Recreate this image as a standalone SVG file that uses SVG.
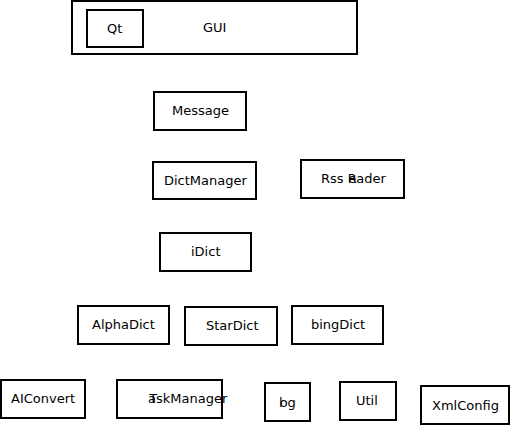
<svg xmlns="http://www.w3.org/2000/svg" width="510" height="425" viewBox="0 0 510 425">
<style>
rect{fill:#fff;stroke:#000;stroke-width:2}
text{font-family:"DejaVu Sans",sans-serif;font-size:13px;fill:#000}
</style>
<rect x="0" y="0" width="510" height="425" style="stroke:none"/>
<g id="connectors"></g>
<g id="GUI"><rect x="72" y="1" width="285" height="53"/><text x="203" y="32">GUI</text></g>
<g id="Qt"><rect x="87" y="10" width="56" height="37"/><text x="107" y="33">Qt</text></g>
<g id="Message"><rect x="154" y="92" width="92" height="38"/><text x="172" y="115">Message</text></g>
<g id="DictManager"><rect x="153" y="162" width="103" height="37"/><text x="164" y="185">DictManager</text></g>
<g id="RssReader"><rect x="301" y="160" width="103" height="38"/><text x="321" y="183">Rss R<tspan dx="-8">eader</tspan></text></g>
<g id="iDict"><rect x="160" y="233" width="91" height="38"/><text x="191" y="256">iDict</text></g>
<g id="AlphaDict"><rect x="78" y="306" width="91" height="38"/><text x="92" y="329">AlphaDict</text></g>
<g id="StarDict"><rect x="185" y="307" width="92" height="38"/><text x="206" y="330">StarDict</text></g>
<g id="bingDict"><rect x="292" y="306" width="91" height="38"/><text x="311" y="329">bingDict</text></g>
<g id="AIConvert"><rect x="1" y="380" width="84" height="38"/><text x="11" y="403">AIConvert</text></g>
<g id="TaskManager"><rect x="117" y="380" width="105" height="38"/><text x="148" y="403">T<tspan dx="-7">askManager</tspan></text></g>
<g id="log"><rect x="265" y="383" width="45" height="38"/><text x="279" y="407">l<tspan dx="-3">og</tspan></text></g>
<g id="Util"><rect x="340" y="382" width="56" height="38"/><text x="356" y="405">Util</text></g>
<g id="XmlConfig"><rect x="421" y="386" width="88" height="38"/><text x="432" y="410">XmlConfig</text></g>
</svg>
